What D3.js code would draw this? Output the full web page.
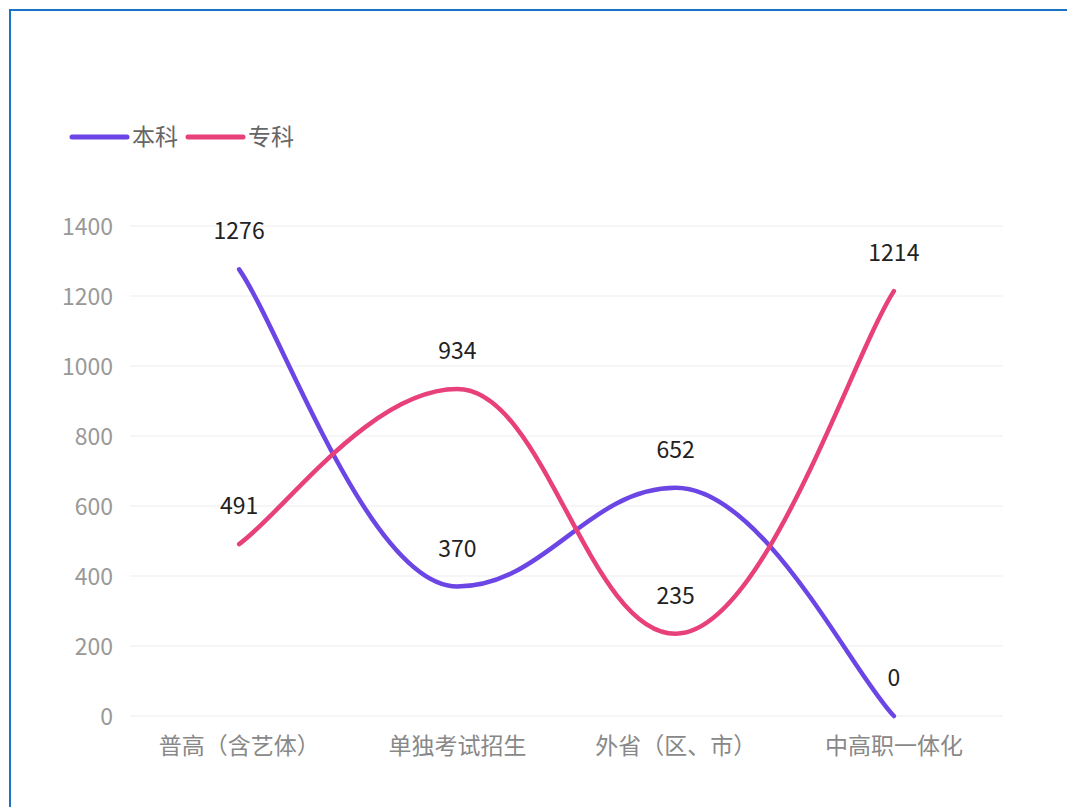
<!DOCTYPE html>
<html>
<head>
<meta charset="utf-8">
<script src="https://cdn.jsdelivr.net/npm/d3@7/dist/d3.min.js"></script>
<style>
  html, body { margin: 0; padding: 0; background: #fff; overflow: hidden; }
  #frame { position: absolute; left: 9px; top: 9px; width: 1200px; height: 1000px;
           border-left: 2.5px solid #1a73c4; border-top: 2.5px solid #1a73c4; box-sizing: border-box; }
  svg { position: absolute; left: 0; top: 0; }
  text { font-family: "Noto Sans CJK SC", "Microsoft YaHei", sans-serif; }
</style>
</head>
<body>
<div id="frame"></div>
<svg id="chart" width="1067" height="807"></svg>
<script>
const categories = ["普高（含艺体）", "单独考试招生", "外省（区、市）", "中高职一体化"];
const seriesNames = ["本科", "专科"];
const benke = [1276, 370, 652, 0];
const zhuanke = [491, 934, 235, 1214];
const yTicks = [0, 200, 400, 600, 800, 1000, 1200, 1400];
const colors = ["#6b46e5", "#e8407b"];

// uCharts-like curve control points
function ctrlPoints(points, i) {
  const a = 0.2, b = 0.2;
  const notMid = j => points[j - 1] && points[j + 1] &&
    (points[j][1] >= Math.max(points[j - 1][1], points[j + 1][1]) ||
     points[j][1] <= Math.min(points[j - 1][1], points[j + 1][1]));
  let pAx, pAy, pBx, pBy;
  if (i < 1) {
    pAx = points[0][0] + (points[1][0] - points[0][0]) * a;
    pAy = points[0][1] + (points[1][1] - points[0][1]) * a;
  } else {
    pAx = points[i][0] + (points[i + 1][0] - points[i - 1][0]) * a;
    pAy = points[i][1] + (points[i + 1][1] - points[i - 1][1]) * a;
  }
  if (i > points.length - 3) {
    const L = points.length - 1;
    pBx = points[L][0] - (points[L][0] - points[L - 1][0]) * b;
    pBy = points[L][1] - (points[L][1] - points[L - 1][1]) * b;
  } else {
    pBx = points[i + 1][0] - (points[i + 2][0] - points[i][0]) * b;
    pBy = points[i + 1][1] - (points[i + 2][1] - points[i][1]) * b;
  }
  if (notMid(i + 1)) pBy = points[i + 1][1];
  if (notMid(i)) pAy = points[i][1];
  const hi = Math.max(points[i][1], points[i + 1][1]), lo = Math.min(points[i][1], points[i + 1][1]);
  if (pAy >= hi || pAy <= lo) pAy = points[i][1];
  if (pBy >= hi || pBy <= lo) pBy = points[i + 1][1];
  return [[pAx, pAy], [pBx, pBy]];
}
function UCurve(context) { this._context = context; }
UCurve.prototype = {
  areaStart() {}, areaEnd() {},
  lineStart() { this._pts = []; },
  point(x, y) { this._pts.push([+x, +y]); },
  lineEnd() {
    const pts = this._pts, ctx = this._context;
    if (!pts.length) return;
    ctx.moveTo(pts[0][0], pts[0][1]);
    for (let j = 1; j < pts.length; j++) {
      const [A, B] = ctrlPoints(pts, j - 1);
      ctx.bezierCurveTo(A[0], A[1], B[0], B[1], pts[j][0], pts[j][1]);
    }
  }
};
const curveU = ctx => new UCurve(ctx);

const svg = d3.select("#chart");
const x = d3.scaleBand().domain(categories).range([130, 1003]);
const y = d3.scaleLinear().domain([0, 1400]).range([716, 226]);
const cx = c => x(c) + x.bandwidth() / 2;

// grid
svg.append("g").selectAll("line").data(yTicks).join("line")
  .attr("x1", 130).attr("x2", 1003)
  .attr("y1", d => y(d)).attr("y2", d => y(d))
  .attr("stroke", "#eeeeee").attr("stroke-width", 1.2);

// y axis labels
const yAxis = d3.axisLeft(y).tickValues(yTicks).tickFormat(d3.format("d")).tickSize(0).tickPadding(0);
const gy = svg.append("g").attr("transform", "translate(113,0)").call(yAxis);
gy.select(".domain").remove();
gy.selectAll("text").attr("font-size", 23).attr("fill", "#999")
  .attr("font-family", "\"Noto Sans CJK SC\", sans-serif").attr("dy", "0.35em");

// x axis labels
const xAxis = d3.axisBottom(x).tickSize(0).tickPadding(0);
const gx = svg.append("g").attr("transform", "translate(0,746)").call(xAxis);
gx.select(".domain").remove();
gx.selectAll("text").attr("font-size", 23).attr("fill", "#888")
  .attr("font-family", "\"Noto Sans CJK SC\", sans-serif").attr("dy", "0.35em");

const series = [benke, zhuanke];
const line = d3.line().x((d, i) => cx(categories[i])).y(d => y(d)).curve(curveU);

series.forEach((vals, si) => {
  svg.append("path").datum(vals).attr("d", line)
    .attr("fill", "none").attr("stroke", colors[si]).attr("stroke-width", 4.5)
    .attr("stroke-linecap", "round").attr("stroke-linejoin", "round");
});

series.forEach((vals, si) => {
  svg.append("g").selectAll("text").data(vals).join("text")
    .attr("x", (d, i) => cx(categories[i]))
    .attr("y", d => y(d) - 38)
    .attr("dy", "0.35em")
    .attr("text-anchor", "middle")
    .attr("font-size", 23).attr("fill", "#222")
    .text(d => d);
});

// legend
const lg = svg.append("g");
let lx = 72;
seriesNames.forEach((name, i) => {
  lg.append("line").attr("x1", lx).attr("x2", lx + 55).attr("y1", 137).attr("y2", 137)
    .attr("stroke", colors[i]).attr("stroke-width", 5).attr("stroke-linecap", "round");
  const t = lg.append("text").attr("x", lx + 60).attr("y", 137).attr("dy", "0.35em")
    .attr("font-size", 23).attr("fill", "#666").text(name);
  lx += 60 + t.node().getComputedTextLength() + 10;
});
</script>
</body>
</html>
